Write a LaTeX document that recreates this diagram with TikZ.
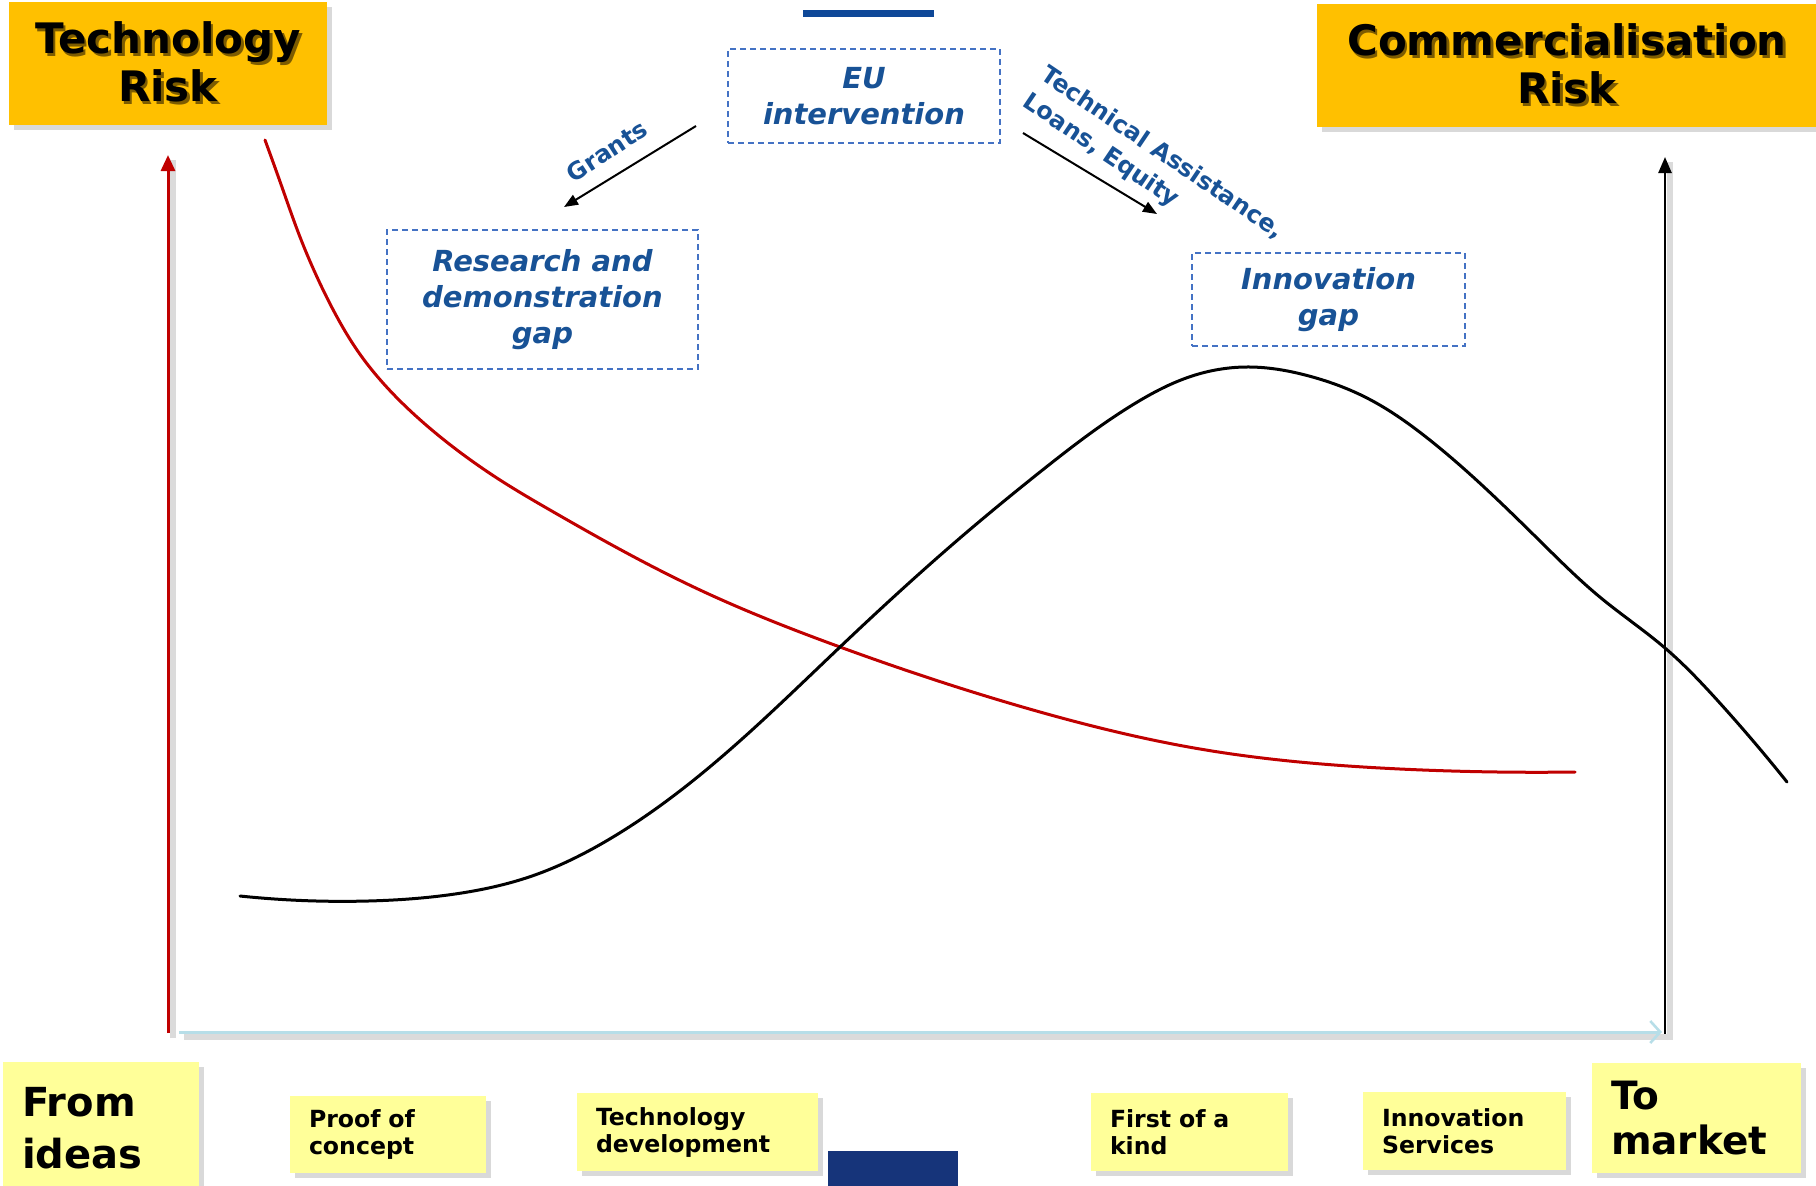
\documentclass[tikz,border=0pt]{standalone}
\usepackage{fontspec}
\setmainfont{DejaVu Sans}
\usetikzlibrary{arrows.meta,shadows,hobby}
\definecolor{orng}{RGB}{255,192,0}
\definecolor{yel}{RGB}{255,255,153}
\definecolor{txtblue}{RGB}{24,82,150}
\definecolor{dashblue}{RGB}{68,114,196}
\definecolor{barblue}{RGB}{14,72,152}
\definecolor{navy}{RGB}{22,52,122}
\definecolor{axred}{RGB}{192,0,0}
\definecolor{axlblue}{RGB}{183,222,232}
\definecolor{tshadow}{RGB}{125,92,0}
\newcommand{\tsh}[1]{\leavevmode\rlap{\hspace{1.3pt}\raisebox{-1.3pt}{\textcolor{tshadow}{#1}}}#1}
\begin{document}
\begin{tikzpicture}[x=0.5pt,y=-0.5pt,
  boxshadow/.style={drop shadow={shadow xshift=2.5pt,shadow yshift=-2.5pt,opacity=0.3}},
  riskbox/.style={fill=orng, boxshadow, inner sep=0pt, align=center,
    font=\fontsize{21}{24}\selectfont\bfseries},
  gapbox/.style={draw=dashblue, line width=0.9pt, dash pattern=on 3pt off 2pt,
    inner sep=0pt, align=center, text=txtblue,
    font=\fontsize{14.5}{18}\selectfont\bfseries\itshape},
  stagebox/.style={fill=yel, boxshadow, inner xsep=9.5pt, inner ysep=0pt, align=left,
    font=\fontsize{11.8}{13.5}\selectfont\bfseries},
  bigstage/.style={fill=yel, boxshadow, inner xsep=9.5pt, inner ysep=0pt, align=left},
  fundlabel/.style={text=txtblue, inner sep=0pt, align=left,
    font=\fontsize{12}{16}\selectfont\bfseries},
  fundarrow/.style={line width=1pt, -{Triangle[length=7pt,width=5.5pt]}},
  axshadow/.style={preaction={draw=black!14, line width=3pt, arrows=-,
    transform canvas={xshift=2.5pt,yshift=-2.5pt}}},
  riskcurve/.style={line width=1.5pt, line cap=round, use Hobby shortcut}
]
\useasboundingbox (0,0) rectangle (1816,1185);

% top decoration bar and bottom navy block
\fill[barblue] (803,10) rectangle (934,17);
\fill[navy] (828,1151) rectangle (958,1190);

% risk title boxes
\node[riskbox, minimum width=159pt, minimum height=61.5pt] (techrisk) at (168,63.5)
  {\tsh{Technology}\\\tsh{Risk}};
\node[riskbox, minimum width=250pt, minimum height=61.5pt] (commrisk) at (1567,65.5)
  {\tsh{Commercialisation}\\\tsh{Risk}};

% gap boxes
\node[gapbox, minimum width=136pt, minimum height=47pt] (eu) at (864,96)
  {EU\\intervention};
\node[gapbox, minimum width=155.5pt, minimum height=69.5pt] (rdgap) at (542.5,299.5)
  {Research and\\demonstration\\gap};
\node[gapbox, minimum width=136.5pt, minimum height=46.5pt] (innogap) at (1328.5,299.5)
  {Innovation\\gap};

% funding arrows
\coordinate (gS) at (696,126);
\coordinate (gE) at (564,207);
\draw[fundarrow] (gS) -- (gE);
\node[fundlabel, rotate=33] (grants) at (607,151) {Grants};
\coordinate (tS) at (1023,133);
\coordinate (tE) at (1157,214);
\draw[fundarrow] (tS) -- (tE);
\node[fundlabel, rotate=-34] (talabel) at (1153,167) {Technical Assistance,\\Loans, Equity};

% axes
\coordinate (rB) at (168,1033);
\coordinate (rT) at (168,155);
\draw[axshadow, draw=axred, line width=1.5pt, -{Triangle[length=8pt,width=7pt]}] (rB) -- (rT);
\coordinate (kB) at (1665,1035);
\coordinate (kT) at (1665,157);
\draw[axshadow, draw=black, line width=1.2pt, -{Triangle[length=8pt,width=6.5pt]}] (kB) -- (kT);
\coordinate (hL) at (179,1032);
\coordinate (hR) at (1662,1032);
\draw[axshadow, draw=axlblue, line width=1.5pt, -{Straight Barb[length=5pt,width=11pt,line width=1.3pt]}] (hL) -- (hR);

% technology risk curve (red)
\draw[riskcurve, axred] (265,140) .. (283,190) .. (300,237) .. (317,277) .. (337,317)
 .. (357,350) .. (383,383) .. (417,417) .. (457,450) .. (500,480) .. (550,510)
 .. (700,590) .. (840,647) .. (1033,710) .. (1200,749) .. (1400,769) .. (1575,772);

% commercialisation risk curve (black)
\draw[riskcurve, black] (240,896) .. (368,901) .. (455,894) .. (532,876) .. (608,840)
 .. (700,775) .. (840,647) .. (967,532) .. (1040,472) .. (1134,404)
 .. (1192,376) .. (1245,367) .. (1309,376) .. (1367,398) .. (1426,437) .. (1484,487)
 .. (1543,544) .. (1601,598) .. (1665,648) .. (1718,701) .. (1787,782);

% stage boxes
\node[bigstage, text width=79pt, minimum height=66pt,
  font=\fontsize{20}{26}\selectfont\bfseries] (ideas) at (101,1128) {From\\ideas};
\node[stagebox, text width=79pt, minimum height=38.5pt] (proof) at (388,1134.5)
  {Proof of\\concept};
\node[stagebox, text width=101.5pt, minimum height=39pt] (techdev) at (697.5,1132)
  {Technology\\development};
\node[stagebox, text width=79.5pt, minimum height=39pt] (foak) at (1189.5,1132)
  {First of a\\kind};
\node[stagebox, text width=82.5pt, minimum height=39pt] (innoserv) at (1464.5,1131)
  {Innovation\\Services};
\node[bigstage, text width=85.5pt, minimum height=55pt,
  font=\fontsize{19.5}{22.5}\selectfont\bfseries] (market) at (1696.5,1118) {To\\market};
\end{tikzpicture}
\end{document}
